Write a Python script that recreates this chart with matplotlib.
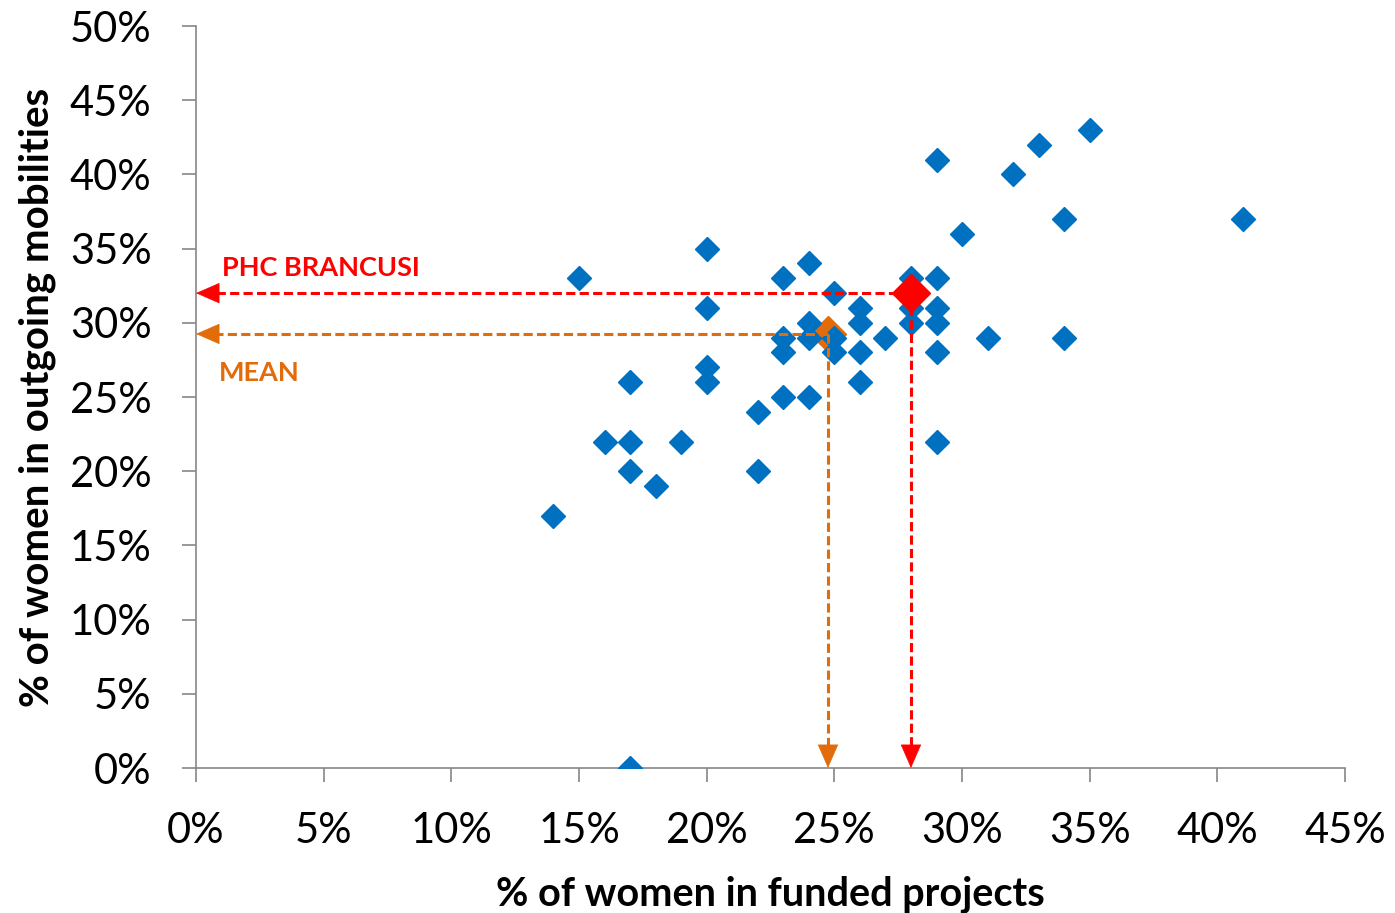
import matplotlib
matplotlib.use('Agg')
import matplotlib.pyplot as plt
from matplotlib.ticker import PercentFormatter

# ── DATA ─────────────────────────────────────────────
funded = [14, 15, 16, 17, 17, 17, 17, 18, 19,
          20, 20, 20, 20, 22, 22,
          23, 23, 23, 23, 24, 24, 24, 24,
          25, 25, 25, 26, 26, 26, 26, 27,
          28, 28, 28, 29, 29, 29, 29, 29, 29,
          30, 31, 32, 33, 34, 34, 35, 41]
mobility = [17, 33, 22, 26, 22, 20, 0, 19, 22,
            35, 31, 27, 26, 24, 20,
            33, 29, 28, 25, 34, 30, 29, 25,
            32, 29, 28, 31, 30, 28, 26, 29,
            33, 31, 30, 41, 33, 31, 30, 28, 22,
            36, 29, 40, 42, 37, 29, 43, 37]

phc_x, phc_y = 28.0, 32.0
mean_x, mean_y = 24.75, 29.25

x_ticks = [0, 5, 10, 15, 20, 25, 30, 35, 40, 45]
y_ticks = [0, 5, 10, 15, 20, 25, 30, 35, 40, 45, 50]

# ── STYLE ────────────────────────────────────────────
BLUE   = "#0070C0"
RED    = "#FF0000"
ORANGE = "#E36C0A"
GREY   = "#868686"
plt.rcParams['font.family'] = ['Lato', 'DejaVu Sans']

fig = plt.figure(figsize=(13.95, 9.13), dpi=100, facecolor='white')
ax = fig.add_axes([0.1405, 0.1588, 0.8237, 0.8127])

# mean marker sits under the blue points
ax.plot([mean_x], [mean_y], marker='D', ms=18, color=ORANGE, ls='none', zorder=2)
ax.plot(funded, mobility, marker='D', ms=12.5, color=BLUE, ls='none', zorder=3)

# dashed guide lines + solid arrow heads
dash = (0, (3.0, 1.4))
HEAD_X, HEAD_Y = 0.7, 1.0   # head length in data units
for (px, py, col) in [(mean_x, mean_y, ORANGE), (phc_x, phc_y, RED)]:
    ax.plot([px, HEAD_X], [py, py], color=col, lw=2.2, ls=dash, zorder=4)
    ax.plot([px, px], [py, HEAD_Y], color=col, lw=2.2, ls=dash, zorder=4)
    for start, end in [((HEAD_X, py), (0, py)), ((px, HEAD_Y), (px, 0))]:
        ax.annotate('', xy=end, xytext=start,
                    arrowprops=dict(arrowstyle='-|>,head_length=0.8,head_width=0.35',
                                    color=col, lw=0.5, mutation_scale=20,
                                    shrinkA=0, shrinkB=0),
                    zorder=4)

ax.plot([phc_x], [phc_y], marker='D', ms=19, color=RED, ls='none', zorder=5)

ax.text(1.0, 33.7, "PHC BRANCUSI", color=RED, fontsize=19.5,
        fontweight='bold', ha='left', va='center')
ax.text(0.9, 26.6, "MEAN", color=ORANGE, fontsize=19.5,
        fontweight='bold', ha='left', va='center')

# ── AXES ─────────────────────────────────────────────
ax.set_xlim(0, 45)
ax.set_ylim(0, 50)
ax.set_xticks(x_ticks)
ax.set_yticks(y_ticks)
ax.xaxis.set_major_formatter(PercentFormatter(decimals=0))
ax.yaxis.set_major_formatter(PercentFormatter(decimals=0))
ax.tick_params(axis='both', direction='out', length=10, width=1.2,
               color=GREY, labelsize=30, labelcolor='black')
ax.tick_params(axis='x', pad=22)
ax.tick_params(axis='y', pad=22)
for s in ['top', 'right']:
    ax.spines[s].set_visible(False)
for s in ['left', 'bottom']:
    ax.spines[s].set_color(GREY)
    ax.spines[s].set_linewidth(1.2)

ax.set_xlabel("% of women in funded projects", fontsize=28.5,
              fontweight='bold', labelpad=18)
ax.set_ylabel("% of women in outgoing mobilities", fontsize=29,
              fontweight='bold', labelpad=10)

plt.savefig("out.png", dpi=100, facecolor='white')
plt.close()
